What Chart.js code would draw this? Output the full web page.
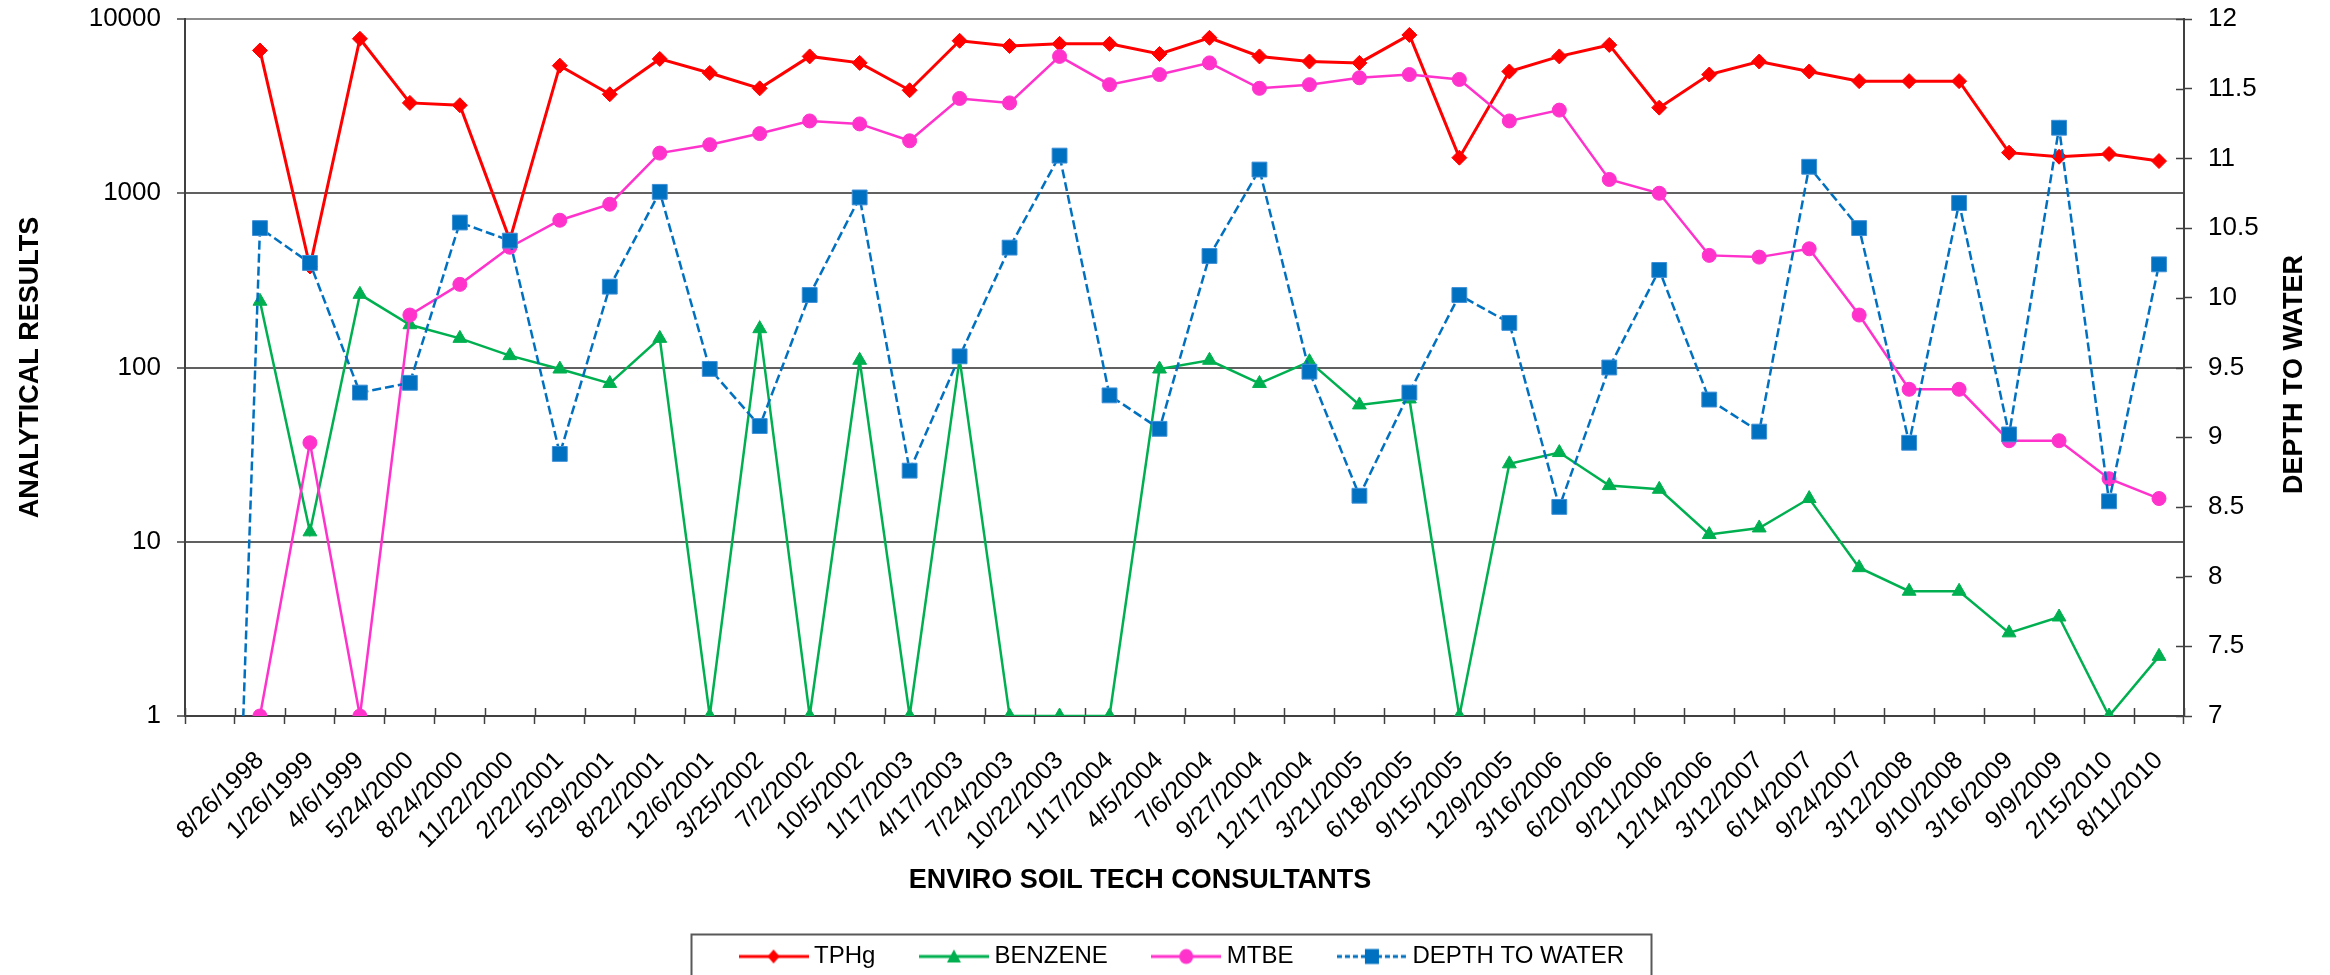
<!DOCTYPE html>
<html>
<head>
<meta charset="utf-8">
<script src="https://cdn.jsdelivr.net/npm/chart.js@4/dist/chart.umd.min.js"></script>
<style>
html,body{margin:0;padding:0;background:#fff;}
#wrap{width:2330px;height:975px;position:relative;}
</style>
</head>
<body>
<div id="wrap"><canvas id="c" width="2330" height="975"></canvas></div>
<script>
// ---- data ----
const categories = ['', '8/26/1998', '1/26/1999', '4/6/1999', '5/24/2000', '8/24/2000', '11/22/2000',
  '2/22/2001', '5/29/2001', '8/22/2001', '12/6/2001', '3/25/2002', '7/2/2002', '10/5/2002',
  '1/17/2003', '4/17/2003', '7/24/2003', '10/22/2003', '1/17/2004', '4/5/2004', '7/6/2004',
  '9/27/2004', '12/17/2004', '3/21/2005', '6/18/2005', '9/15/2005', '12/9/2005', '3/16/2006',
  '6/20/2006', '9/21/2006', '12/14/2006', '3/12/2007', '6/14/2007', '9/24/2007', '3/12/2008',
  '9/10/2008', '3/16/2009', '9/9/2009', '2/15/2010', '8/11/2010'];

const tphg = [null, 6600, 380, 7700, 3300, 3200, 540, 5400, 3700, 5900, 4900, 4000, 6100, 5600,
  3900, 7500, 7000, 7200, 7200, 6300, 7800, 6100, 5700, 5600, 8100, 1600, 5000, 6100,
  7100, 3100, 4800, 5700, 5000, 4400, 4400, 4400, 1710, 1620, 1680, 1530];

const benzene = [null, 240, 11.4, 263, 176, 147, 117, 98, 81, 147, 1, 167, 1, 110,
  1, 112, 1, 1, 1, 98, 110, 81, 108, 61, 66, 1, 28, 32.5,
  21, 20, 11, 12, 17.7, 7.1, 5.2, 5.2, 3, 3.7, 1, 2.2];

const mtbe = [null, 1, 37, 1, 200, 300, 490, 700, 865, 1700, 1900, 2200, 2600, 2500,
  2000, 3500, 3300, 6100, 4200, 4800, 5600, 4000, 4200, 4600, 4800, 4500, 2600, 3000,
  1200, 1000, 440, 430, 480, 200, 75, 75, 38, 38, 23, 17.7];

const depthToWater = [0, 10.50, 10.25, 9.32, 9.39, 10.54, 10.41, 8.88, 10.08, 10.76, 9.49, 9.08, 10.02, 10.72,
  8.76, 9.58, 10.36, 11.02, 9.30, 9.06, 10.30, 10.92, 9.47, 8.58, 9.32, 10.02, 9.82, 8.50,
  9.50, 10.20, 9.27, 9.04, 10.94, 10.50, 8.96, 10.68, 9.02, 11.22, 8.54, 10.24];

const resultTicks = [1, 10, 100, 1000, 10000];
const depthTicks = [7, 7.5, 8, 8.5, 9, 9.5, 10, 10.5, 11, 11.5, 12];

const seriesNames = ['TPHg', 'BENZENE', 'MTBE', 'DEPTH TO WATER'];

// ---- styling ----
const FONT = '"Liberation Sans", Arial, Helvetica, sans-serif';
Chart.defaults.font.family = FONT;
Chart.defaults.color = '#000';

const RED = '#FF0000', GREEN = '#00B050', PINK = '#FF33CC', BLUE = '#0070C0';

function legendSample(color, lw, dash, shape) {
  const c = document.createElement('canvas');
  c.width = 70; c.height = 26;
  const g = c.getContext('2d');
  const cy = 13, cx = 35;
  g.strokeStyle = color; g.lineWidth = lw; g.setLineDash(dash);
  g.beginPath(); g.moveTo(0, cy); g.lineTo(70, cy); g.stroke();
  g.setLineDash([]);
  g.fillStyle = color;
  g.beginPath();
  if (shape === 'diamond') {
    g.moveTo(cx, cy - 7); g.lineTo(cx + 6, cy); g.lineTo(cx, cy + 7); g.lineTo(cx - 6, cy); g.closePath();
  } else if (shape === 'triangle') {
    g.moveTo(cx, cy - 7); g.lineTo(cx + 7, cy + 6); g.lineTo(cx - 7, cy + 6); g.closePath();
  } else if (shape === 'circle') {
    g.ellipse(cx, cy, 7, 7.5, 0, 0, Math.PI * 2);
  } else {
    g.rect(cx - 7, cy - 7.5, 14, 15);
  }
  g.fill();
  return c;
}
const legendImages = [
  legendSample(RED, 3, [], 'diamond'),
  legendSample(GREEN, 3, [], 'triangle'),
  legendSample(PINK, 3, [], 'circle'),
  legendSample(BLUE, 3, [5, 3], 'square')
];

// inner halves of tick marks (ticks cross the axis lines)
const innerTicks = {
  id: 'innerTicks',
  beforeDatasetsDraw(chart) {
    const ctx = chart.ctx;
    const yr = chart.scales.y1;
    const area = chart.chartArea;
    ctx.save();
    ctx.strokeStyle = '#404040';
    ctx.lineWidth = 1.5;
    ctx.beginPath();
    const n = categories.length;
    const step = (area.right - area.left) / n;
    for (let i = 0; i <= n; i++) {
      const px = Math.round(area.left + step * i) + 0.5;
      ctx.moveTo(px, area.bottom);
      ctx.lineTo(px, area.bottom - 8);
    }
    depthTicks.forEach(v => {
      const py = Math.round(yr.getPixelForValue(v)) + 0.5;
      ctx.moveTo(area.right, py);
      ctx.lineTo(area.right - 8, py);
    });
    ctx.stroke();
    ctx.restore();
  }
};

// right axis title (reads bottom-to-top like the left one)
const rightTitle = {
  id: 'rightTitle',
  afterDraw(chart) {
    const s = chart.scales.y1;
    const ctx = chart.ctx;
    ctx.save();
    ctx.translate(s.left + 111, (s.top + s.bottom) / 2 + 7);
    ctx.rotate(-Math.PI / 2);
    ctx.font = 'bold 27px ' + FONT;
    ctx.fillStyle = '#000';
    ctx.textAlign = 'center';
    ctx.textBaseline = 'middle';
    ctx.fillText('DEPTH TO WATER', 0, 0);
    ctx.restore();
  }
};

// frame around the legend
const legendFrame = {
  id: 'legendFrame',
  afterDraw(chart) {
    const lg = chart.legend;
    if (!lg || !lg.legendHitBoxes || !lg.legendHitBoxes.length) return;
    const hb = lg.legendHitBoxes;
    const first = hb[0], last = hb[hb.length - 1];
    const x0 = first.left - 6.5 - 48;
    const x1 = last.left + last.width + 27;
    const yc = first.top + first.height / 2;
    const ctx = chart.ctx;
    ctx.save();
    ctx.strokeStyle = '#595959';
    ctx.lineWidth = 2;
    ctx.strokeRect(Math.round(x0) + 0.5, Math.round(yc - 23) + 0.5, Math.round(x1 - x0), 80);
    ctx.restore();
  }
};

new Chart(document.getElementById('c'), {
  type: 'line',
  data: {
    labels: categories,
    datasets: [
      { label: seriesNames[0], data: tphg, yAxisID: 'y', order: 4,
        borderColor: RED, backgroundColor: RED, borderWidth: 3,
        pointStyle: 'rectRot', pointRadius: 7.5, pointBorderWidth: 1,
        pointBackgroundColor: RED, pointBorderColor: RED, tension: 0 },
      { label: seriesNames[1], data: benzene, yAxisID: 'y', order: 3,
        borderColor: GREEN, backgroundColor: GREEN, borderWidth: 2.5,
        pointStyle: 'triangle', pointRadius: 8, pointBorderWidth: 1,
        pointBackgroundColor: GREEN, pointBorderColor: GREEN, tension: 0 },
      { label: seriesNames[2], data: mtbe, yAxisID: 'y', order: 2,
        borderColor: PINK, backgroundColor: PINK, borderWidth: 2.5,
        pointStyle: 'circle', pointRadius: 7, pointBorderWidth: 1,
        pointBackgroundColor: PINK, pointBorderColor: PINK, tension: 0 },
      { label: seriesNames[3], data: depthToWater, yAxisID: 'y1', order: 1,
        borderColor: BLUE, backgroundColor: BLUE, borderWidth: 2.5, borderDash: [9, 4],
        pointStyle: 'rect', pointRadius: 10.5, pointBorderWidth: 1,
        pointBackgroundColor: BLUE, pointBorderColor: '#3d8fd6', tension: 0, clip: 0 }
    ]
  },
  options: {
    responsive: false,
    animation: false,
    events: [],
    layout: { padding: { top: 19, left: 0, right: 50, bottom: -3.5 } },
    scales: {
      x: {
        type: 'category',
        offset: true,
        afterFit(scale) { scale.height = 151; scale.paddingLeft = 0; scale.paddingRight = 0; },
        grid: { display: true, offset: true, drawOnChartArea: false, drawTicks: true,
                tickLength: 8, tickColor: '#404040', tickWidth: 1.5 },
        border: { display: true, color: '#404040', width: 2 },
        ticks: { autoSkip: false, minRotation: 45, maxRotation: 45, padding: 22,
                 font: { size: 25 }, color: '#000' }
      },
      y: {
        type: 'logarithmic',
        position: 'left',
        min: 1, max: 10000,
        afterFit(scale) { scale.width = 185; scale.paddingTop = 0; scale.paddingBottom = 0; },
        afterBuildTicks(scale) { scale.ticks = resultTicks.map(v => ({ value: v })); },
        grid: { color: c => (c.tick && c.tick.value === 10000 ? '#8c8c8c' : '#606060'),
                lineWidth: 2, drawTicks: true, tickLength: 8,
                tickColor: '#404040', tickWidth: 1.5 },
        border: { display: true, color: '#404040', width: 2 },
        ticks: { padding: 16, font: { size: 26 }, color: '#000',
                 callback: v => String(v) },
        title: { display: true, text: 'ANALYTICAL RESULTS', color: '#000',
                 font: { size: 27, weight: 'bold', lineHeight: 1.2 }, padding: { top: 14.8, bottom: 0 } }
      },
      y1: {
        type: 'linear',
        position: 'right',
        min: 7, max: 12,
        afterFit(scale) { scale.width = 96; scale.paddingTop = 0; scale.paddingBottom = 0; },
        afterBuildTicks(scale) { scale.ticks = depthTicks.map(v => ({ value: v })); },
        grid: { drawOnChartArea: false, drawTicks: true, tickLength: 8,
                tickColor: '#404040', tickWidth: 1.5 },
        border: { display: true, color: '#404040', width: 2 },
        ticks: { padding: 16, font: { size: 26 }, color: '#000',
                 callback: v => String(v) }
      }
    },
    plugins: {
      tooltip: { enabled: false },
      title: {
        display: true, text: 'ENVIRO SOIL TECH CONSULTANTS', position: 'bottom', weight: 500,
        color: '#000', font: { size: 27, weight: 'bold', lineHeight: 1 },
        padding: { top: 0, bottom: 0.5 }
      },
      legend: {
        display: true, position: 'bottom', fullSize: false,
        labels: {
          usePointStyle: true, pointStyleWidth: 57, padding: 50,
          font: { size: 24 }, color: '#000',
          sort: (a, b) => a.datasetIndex - b.datasetIndex,
          generateLabels(chart) {
            const items = Chart.defaults.plugins.legend.labels.generateLabels(chart);
            items.forEach(it => { it.pointStyle = legendImages[it.datasetIndex]; it.rotation = 0; });
            return items;
          }
        }
      }
    }
  },
  plugins: [innerTicks, rightTitle, legendFrame]
});
</script>
</body>
</html>
